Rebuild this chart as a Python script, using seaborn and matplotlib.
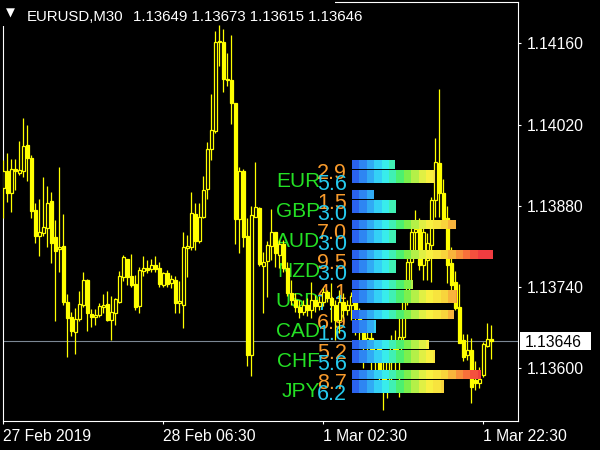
# -*- coding: utf-8 -*-
"""
EURUSD M30 chart with currency strength meter overlay (MT4 look)
"""

import numpy as np
import pandas as pd
import matplotlib
matplotlib.use("Agg")
import matplotlib.pyplot as plt
import matplotlib.transforms as mtransforms
from matplotlib.patches import Rectangle
import seaborn as sns


#%% data
symbol = "EURUSD,M30"

opens = [1.13910, 1.13940, 1.13902, 1.13944, 1.13937, 1.13940, 1.13985, 1.13962, 1.13872, 1.13828,
         1.13833, 1.13842, 1.13887, 1.13826, 1.13805, 1.13810, 1.13713, 1.13687, 1.13662, 1.13684,
         1.13708, 1.13751, 1.13693, 1.13688, 1.13690, 1.13705, 1.13710, 1.13682, 1.13695, 1.13714,
         1.13756, 1.13788, 1.13758, 1.13744, 1.13707, 1.13767, 1.13772, 1.13770, 1.13777, 1.13772,
         1.13743, 1.13764, 1.13746, 1.13751, 1.13711, 1.13709, 1.13807, 1.13809, 1.13865, 1.13819,
         1.13860, 1.13908, 1.13977, 1.14008, 1.14163, 1.14163, 1.14098, 1.14097, 1.14058, 1.13857,
         1.13940, 1.13827, 1.13622, 1.13861, 1.13875, 1.13776, 1.13785, 1.13810, 1.13835, 1.13795,
         1.13814, 1.13772, 1.13729, 1.13717, 1.13705, 1.13696, 1.13708, 1.13700, 1.13717, 1.13706,
         1.13713, 1.13731, 1.13720, 1.13708, 1.13682, 1.13713, 1.13700, 1.13708, 1.13724, 1.13696,
         1.13665, 1.13639, 1.13651, 1.13622, 1.13634, 1.13596, 1.13579, 1.13610, 1.13639, 1.13627,
         1.13653, 1.13717, 1.13783, 1.13834, 1.13840, 1.13777, 1.13786, 1.13812, 1.13890, 1.13954,
         1.13902, 1.13859, 1.13781, 1.13748, 1.13705, 1.13648, 1.13622, 1.13630, 1.13579, 1.13573,
         1.13587, 1.13637, 1.13649]
highs = [1.13959, 1.13971, 1.13960, 1.13960, 1.13992, 1.14031, 1.14019, 1.13967, 1.13884, 1.13891,
         1.13930, 1.13914, 1.13903, 1.13855, 1.13947, 1.13865, 1.13728, 1.13696, 1.13703, 1.13733,
         1.13766, 1.13753, 1.13701, 1.13701, 1.13712, 1.13728, 1.13733, 1.13724, 1.13721, 1.13767,
         1.13795, 1.13788, 1.13796, 1.13760, 1.13774, 1.13792, 1.13786, 1.13787, 1.13793, 1.13783,
         1.13766, 1.13769, 1.13760, 1.13758, 1.13750, 1.13835, 1.13829, 1.13904, 1.13885, 1.13885,
         1.13931, 1.13989, 1.14073, 1.14182, 1.14192, 1.14185, 1.14144, 1.14175, 1.14058, 1.13947,
         1.13944, 1.13858, 1.13879, 1.13956, 1.13877, 1.13800, 1.13819, 1.13874, 1.13835, 1.13821,
         1.13821, 1.13783, 1.13751, 1.13729, 1.13717, 1.13717, 1.13720, 1.13748, 1.13725, 1.13724,
         1.13738, 1.13734, 1.13746, 1.13717, 1.13734, 1.13729, 1.13717, 1.13731, 1.13734, 1.13703,
         1.13674, 1.13665, 1.13662, 1.13648, 1.13639, 1.13613, 1.13622, 1.13656, 1.13665, 1.13694,
         1.13734, 1.13795, 1.13843, 1.13872, 1.13859, 1.13841, 1.13833, 1.13895, 1.13997, 1.14081,
         1.13926, 1.13879, 1.13808, 1.13767, 1.13744, 1.13658, 1.13658, 1.13651, 1.13611, 1.13601,
         1.13644, 1.13677, 1.13673]
lows = [1.13859, 1.13886, 1.13868, 1.13907, 1.13933, 1.13930, 1.13923, 1.13859, 1.13815, 1.13793,
        1.13828, 1.13808, 1.13780, 1.13681, 1.13766, 1.13708, 1.13618, 1.13655, 1.13624, 1.13681,
        1.13705, 1.13664, 1.13670, 1.13674, 1.13688, 1.13695, 1.13681, 1.13647, 1.13674, 1.13712,
        1.13750, 1.13743, 1.13740, 1.13700, 1.13695, 1.13758, 1.13764, 1.13766, 1.13766, 1.13740,
        1.13739, 1.13740, 1.13737, 1.13694, 1.13695, 1.13668, 1.13756, 1.13803, 1.13803, 1.13816,
        1.13858, 1.13891, 1.13958, 1.14006, 1.14121, 1.14077, 1.14087, 1.14021, 1.13814, 1.13798,
        1.13809, 1.13603, 1.13586, 1.13860, 1.13776, 1.13695, 1.13722, 1.13786, 1.13774, 1.13772,
        1.13765, 1.13724, 1.13708, 1.13696, 1.13686, 1.13691, 1.13689, 1.13686, 1.13696, 1.13700,
        1.13706, 1.13713, 1.13679, 1.13648, 1.13660, 1.13686, 1.13691, 1.13682, 1.13656, 1.13639,
        1.13599, 1.13613, 1.13596, 1.13592, 1.13570, 1.13527, 1.13548, 1.13579, 1.13587, 1.13549,
        1.13648, 1.13708, 1.13751, 1.13803, 1.13769, 1.13751, 1.13751, 1.13748, 1.13860, 1.13860,
        1.13843, 1.13746, 1.13734, 1.13700, 1.13643, 1.13611, 1.13613, 1.13539, 1.13561, 1.13565,
        1.13584, 1.13636, 1.13615]
closes = [1.13939, 1.13902, 1.13944, 1.13939, 1.13941, 1.13983, 1.13963, 1.13871, 1.13828, 1.13834,
          1.13843, 1.13885, 1.13815, 1.13802, 1.13808, 1.13714, 1.13685, 1.13664, 1.13684, 1.13710,
          1.13751, 1.13694, 1.13688, 1.13691, 1.13706, 1.13709, 1.13682, 1.13696, 1.13719, 1.13758,
          1.13791, 1.13756, 1.13743, 1.13705, 1.13769, 1.13772, 1.13769, 1.13777, 1.13770, 1.13744,
          1.13764, 1.13744, 1.13753, 1.13712, 1.13715, 1.13809, 1.13810, 1.13867, 1.13819, 1.13861,
          1.13906, 1.13977, 1.14011, 1.14163, 1.14165, 1.14098, 1.14097, 1.14058, 1.13856, 1.13939,
          1.13826, 1.13622, 1.13864, 1.13877, 1.13779, 1.13783, 1.13812, 1.13835, 1.13798, 1.13814,
          1.13772, 1.13729, 1.13717, 1.13705, 1.13696, 1.13708, 1.13700, 1.13717, 1.13706, 1.13713,
          1.13731, 1.13720, 1.13708, 1.13682, 1.13713, 1.13700, 1.13708, 1.13724, 1.13696, 1.13665,
          1.13639, 1.13651, 1.13622, 1.13634, 1.13596, 1.13579, 1.13610, 1.13639, 1.13627, 1.13653,
          1.13717, 1.13783, 1.13834, 1.13840, 1.13777, 1.13834, 1.13815, 1.13890, 1.13955, 1.13902,
          1.13857, 1.13777, 1.13743, 1.13703, 1.13643, 1.13618, 1.13630, 1.13567, 1.13573, 1.13580,
          1.13641, 1.13649, 1.13646]

time_ticks = [0, 40, 80, 120]
time_labels = ["27 Feb 2019", "28 Feb 06:30", "1 Mar 02:30", "1 Mar 22:30"]
price_ticks = [1.13600, 1.13740, 1.13880, 1.14020, 1.14160]

currencies = ["EUR", "GBP", "AUD", "NZD", "USD", "CAD", "CHF", "JPY"]
strength_a = [2.9, 1.5, 7.0, 9.5, 4.1, 6.9, 5.2, 8.7]   # orange numbers, thin bars
strength_b = [5.6, 3.0, 3.0, 3.0, 7.1, 1.6, 5.6, 6.2]   # cyan numbers, thick bars


#%% style
YELLOW = "#ffff00"
GREEN = "#24e024"
ORANGE = "#f99b2c"
CYAN = "#25cbef"
seg_colors = ["#2a62ee", "#2e86f2", "#31aaf4", "#34d0f6", "#38ecec", "#40f0b4",
              "#4cf070", "#7cf04c", "#b4f048", "#e0f044", "#f8f040", "#f8e43e",
              "#f8d43c", "#f8b43c", "#f8903a", "#f8703a", "#f4503e", "#f03c40",
              "#f03c40", "#f03c40"]
seg_step = 0.5

sns.set_theme(style="dark", rc={"axes.facecolor": "black",
                                "figure.facecolor": "black",
                                "axes.edgecolor": "white",
                                "axes.grid": False})
plt.rcParams["font.family"] = ["Liberation Sans", "DejaVu Sans"]
meter_font = ["Liberation Sans", "DejaVu Sans"]

W, H = 600, 450


def fig_box(x0, y0, x1, y1):
    # pixel box measured from the top-left corner -> figure fraction
    return [x0 / W, 1 - y1 / H, (x1 - x0) / W, (y1 - y0) / H]


fig = plt.figure(figsize=(6, 4.5), dpi=100)
ax = fig.add_axes(fig_box(3, 2, 518, 421))

#%% candles
df = pd.DataFrame({"open": opens, "high": highs, "low": lows, "close": closes})
df["bar"] = np.arange(len(df))
bull = df["close"] >= df["open"]

ax.vlines(df["bar"], df["low"], df["high"], color=YELLOW, lw=0.9, zorder=3)
ax.bar(df["bar"], (df["close"] - df["open"]).abs(),
       bottom=df[["open", "close"]].min(axis=1), width=0.7,
       color=np.where(bull, "black", YELLOW), edgecolor=YELLOW,
       linewidth=0.9, zorder=4)

ax.set_xlim(-0.075, 128.7)
ax.set_ylim(1.135077, 1.142317)

bid = closes[-1]
ax.axhline(bid, color="#7b8794", lw=0.8, zorder=2)

ax.set_yticks(price_ticks)
ax.set_yticklabels([f"{p:.5f}" for p in price_ticks])
ax.set_xticks(time_ticks)
ax.set_xticklabels(time_labels, ha="left")
ax.tick_params(axis="y", left=False, right=True, labelleft=False, labelright=True, pad=4)
ax.tick_params(axis="x", bottom=True, pad=3)
ax.tick_params(colors="white", labelcolor="white", length=2.5, width=0.8, labelsize=11.3)
ax.set_xlabel("")
ax.set_ylabel("")
for s in ax.spines.values():
    s.set_color("white")
    s.set_linewidth(0.8)

# current price label on the scale
trans = mtransforms.blended_transform_factory(ax.transAxes, ax.transData)
px = (ax.get_ylim()[1] - ax.get_ylim()[0]) / 419
ax.add_patch(Rectangle((517 / 515, bid - 9.3 * px), 71 / 515, 18.6 * px,
                       transform=trans, facecolor="white", edgecolor="none",
                       clip_on=False, zorder=6))
ax.text(522 / 515, bid, f"{bid:.5f}", transform=trans, color="black",
        fontsize=11.3, va="center_baseline", ha="left", zorder=7, clip_on=False)

# black strip behind the title
ax.add_patch(Rectangle((0, 1 - 26 / H), 335 / W, 26 / H, transform=fig.transFigure,
                       facecolor="black", edgecolor="none", clip_on=False, zorder=2.7))
fig.text(6 / W, 1 - 13 / H, "\u25bc", color="white", fontsize=8.4,
         family="DejaVu Sans", va="center", ha="left")
fig.text(27 / W, 1 - 20.7 / H, symbol, color="white", fontsize=10.8,
         va="baseline", ha="left")
fig.text(133 / W, 1 - 20.7 / H,
         " ".join(f"{v:.5f}" for v in (opens[-1], highs[-1], lows[-1], closes[-1])),
         color="white", fontsize=10.8, va="baseline", ha="left")

#%% strength meter
axm = fig.add_axes(fig_box(352, 150, 500, 400))
rows = np.arange(len(currencies))
thin_y = rows + 0.477
thick_y = rows + 0.889

for k in range(len(seg_colors) - 1, -1, -1):
    reach = (k + 1) * seg_step
    for vals, centre, height in ((strength_a, thin_y, 0.29), (strength_b, thick_y, 0.443)):
        sns.barplot(x=np.minimum(vals, reach), y=centre, orient="y",
                    native_scale=True, width=height, color=seg_colors[k],
                    saturation=1, errorbar=None, linewidth=0, ax=axm)

axm.set_xlim(0, 10)
axm.set_ylim(250 / 30, 0)
axm.set_axis_off()

# labels sit under the candles, so draw them in the price axes
for i, cur in enumerate(currencies):
    ax.text(-2.162, i + 1.243, cur, transform=axm.transData, color=GREEN,
            fontsize=15, family=meter_font, ha="right", va="baseline", zorder=2)
    ax.text(-0.338, i + 0.977, f"{strength_a[i]:.1f}", transform=axm.transData,
            color=ORANGE, fontsize=15.5, family=meter_font, ha="right",
            va="baseline", zorder=2.1)
    ax.text(-0.338, i + 1.35, f"{strength_b[i]:.1f}", transform=axm.transData,
            color=CYAN, fontsize=15.5, family=meter_font, ha="right",
            va="baseline", zorder=2.2)

plt.savefig("out.png", dpi=100, facecolor="black")
